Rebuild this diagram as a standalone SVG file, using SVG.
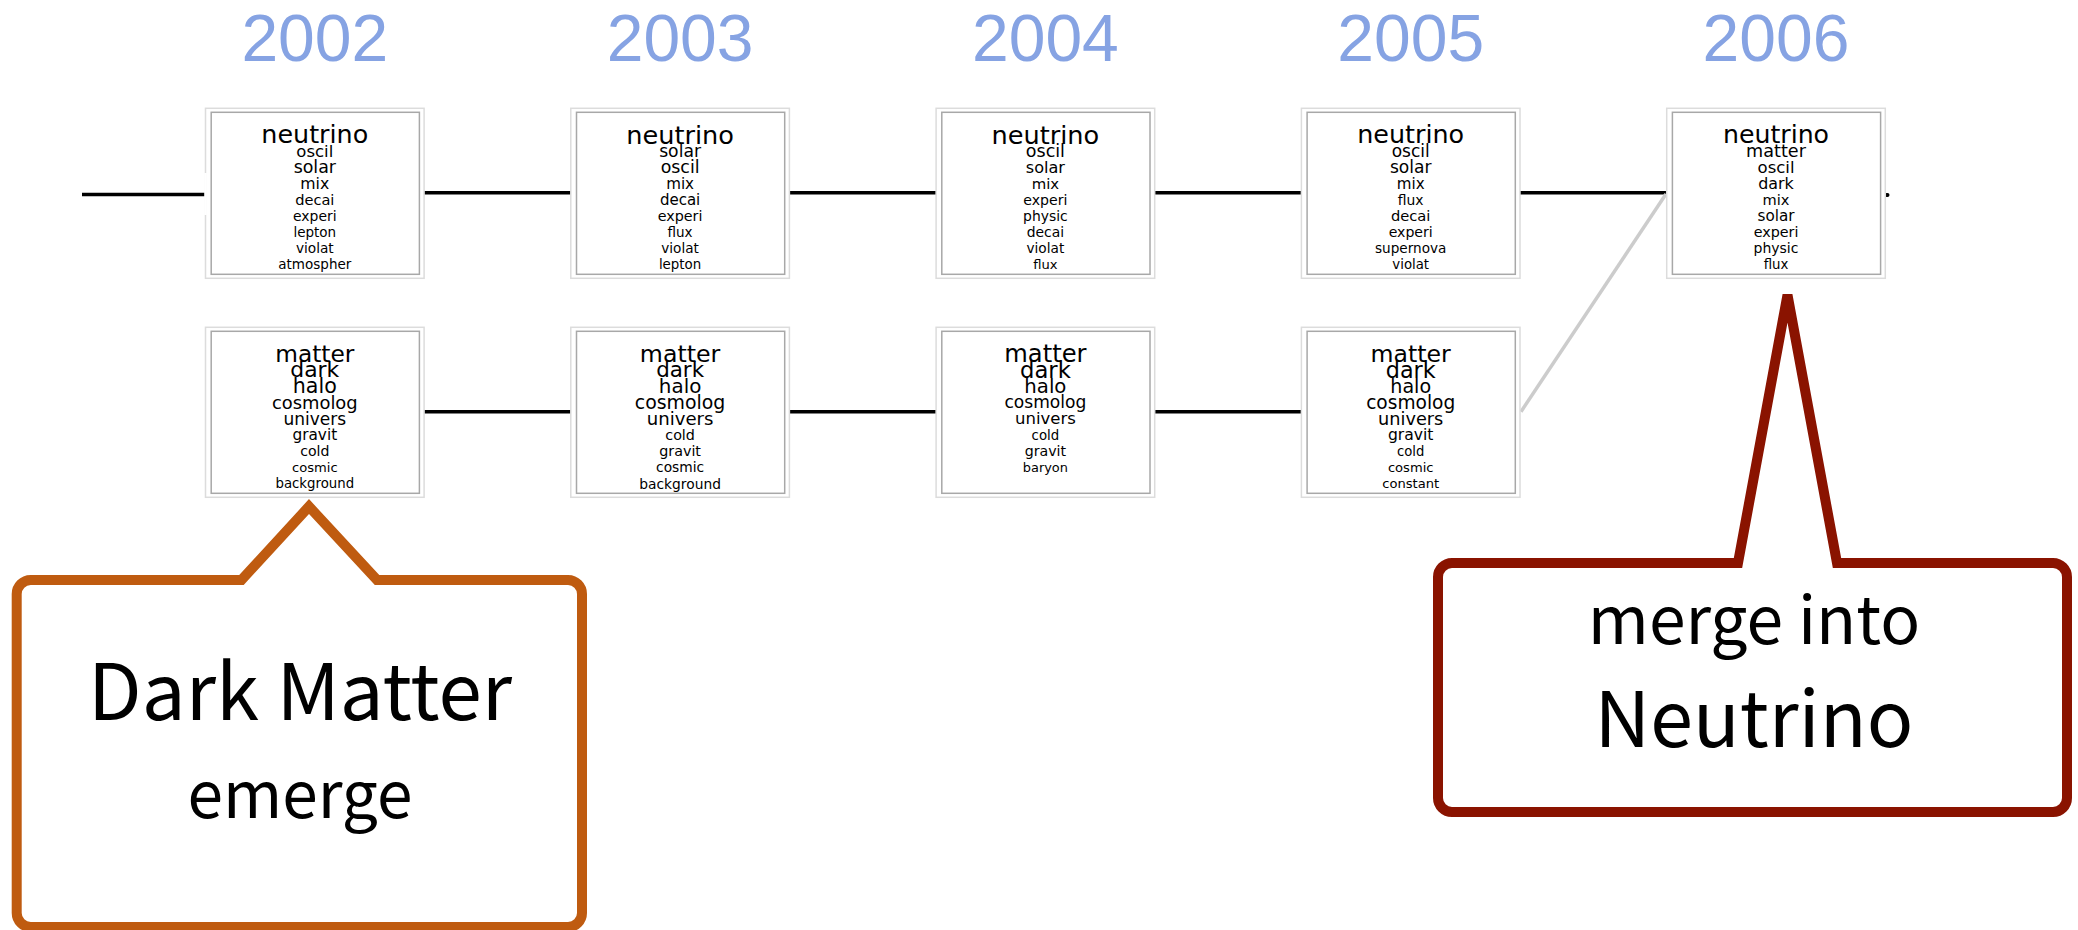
<svg xmlns="http://www.w3.org/2000/svg" width="2078" height="930" viewBox="0 0 2078 930">
<style>
.yr{font-family:"Liberation Sans",Arial,sans-serif;font-size:66px;fill:#86a3e3;text-anchor:middle}
.ob{fill:#fff;stroke:#dcdcdc;stroke-width:1.5}
.ib{fill:#fff;stroke:#a8a8a8;stroke-width:1.5}
.w{font-family:"DejaVu Sans",sans-serif;fill:#000;text-anchor:middle}
.cn{stroke:#000;stroke-width:3.5;fill:none}
.cg{stroke:#cccccc;stroke-width:3.5;fill:none}
.ct{font-family:"Noto Sans CJK JP","Noto Sans",sans-serif;fill:#000;text-anchor:middle}
</style>
<rect width="2078" height="930" fill="#fff"/>
<g id="years">
<text class="yr" x="314.8" y="61">2002</text>
<text class="yr" x="680.1" y="61">2003</text>
<text class="yr" x="1045.4" y="61">2004</text>
<text class="yr" x="1410.7" y="61">2005</text>
<text class="yr" x="1776" y="61">2006</text>
</g>
<g id="connectors">
<line class="cn" x1="82" y1="194.4" x2="207" y2="194.4"/>
<line class="cn" x1="424" y1="192.8" x2="571" y2="192.8"/>
<line class="cn" x1="789.4" y1="192.8" x2="936.1" y2="192.8"/>
<line class="cn" x1="1154.7" y1="192.8" x2="1301.4" y2="192.8"/>
<line class="cn" x1="1520" y1="192.8" x2="1666.7" y2="192.8"/>
<line class="cn" x1="424" y1="411.7" x2="571" y2="411.7"/>
<line class="cn" x1="789.4" y1="411.7" x2="936.1" y2="411.7"/>
<line class="cn" x1="1154.7" y1="411.7" x2="1301.4" y2="411.7"/>
<line class="cg" x1="1521" y1="411.7" x2="1666" y2="194"/>
<line x1="1886.5" y1="195" x2="1887.5" y2="195" stroke="#000" stroke-width="4" stroke-linecap="round"/>
</g>
<g id="n2002top">
<rect class="ob" x="205.5" y="108.3" width="218.6" height="170"/>
<line x1="205.5" y1="173" x2="205.5" y2="215" stroke="#fff" stroke-width="2.5"/>
<rect class="ib" x="211.2" y="112.3" width="208.2" height="162"/>
<text class="w" x="314.8" y="143.4" font-size="25.4">neutrino</text>
<text class="w" x="314.8" y="156.6" font-size="16.5">oscil</text>
<text class="w" x="314.8" y="173.1" font-size="17.4">solar</text>
<text class="w" x="314.8" y="188.8" font-size="15.7">mix</text>
<text class="w" x="314.8" y="204.7" font-size="14.6">decai</text>
<text class="w" x="314.8" y="220.7" font-size="13.9">experi</text>
<text class="w" x="314.8" y="236.8" font-size="13.5">lepton</text>
<text class="w" x="314.8" y="253.2" font-size="13.7">violat</text>
<text class="w" x="314.8" y="269.4" font-size="13.5">atmospher</text>
</g>
<g id="n2003top">
<rect class="ob" x="570.8" y="108.3" width="218.6" height="170"/>
<rect class="ib" x="576.5" y="112.3" width="208.2" height="162"/>
<text class="w" x="680.1" y="143.5" font-size="25.6">neutrino</text>
<text class="w" x="680.1" y="156.8" font-size="17.2">solar</text>
<text class="w" x="680.1" y="173.1" font-size="17.4">oscil</text>
<text class="w" x="680.1" y="188.6" font-size="15.1">mix</text>
<text class="w" x="680.1" y="204.8" font-size="15">decai</text>
<text class="w" x="680.1" y="220.9" font-size="14.3">experi</text>
<text class="w" x="680.1" y="236.8" font-size="13.5">flux</text>
<text class="w" x="680.1" y="253.1" font-size="13.6">violat</text>
<text class="w" x="680.1" y="269.3" font-size="13.4">lepton</text>
</g>
<g id="n2004top">
<rect class="ob" x="936.1" y="108.3" width="218.6" height="170"/>
<rect class="ib" x="941.8" y="112.3" width="208.2" height="162"/>
<text class="w" x="1045.4" y="143.5" font-size="25.6">neutrino</text>
<text class="w" x="1045.4" y="156.9" font-size="17.5">oscil</text>
<text class="w" x="1045.4" y="172.7" font-size="16.1">solar</text>
<text class="w" x="1045.4" y="188.5" font-size="14.9">mix</text>
<text class="w" x="1045.4" y="204.5" font-size="14.1">experi</text>
<text class="w" x="1045.4" y="220.7" font-size="13.9">physic</text>
<text class="w" x="1045.4" y="237" font-size="13.9">decai</text>
<text class="w" x="1045.4" y="253.2" font-size="13.7">violat</text>
<text class="w" x="1045.4" y="269.2" font-size="13.1">flux</text>
</g>
<g id="n2005top">
<rect class="ob" x="1301.4" y="108.3" width="218.6" height="170"/>
<rect class="ib" x="1307.1" y="112.3" width="208.2" height="162"/>
<text class="w" x="1410.7" y="143.4" font-size="25.4">neutrino</text>
<text class="w" x="1410.7" y="156.7" font-size="17">oscil</text>
<text class="w" x="1410.7" y="173" font-size="17.1">solar</text>
<text class="w" x="1410.7" y="188.6" font-size="15.1">mix</text>
<text class="w" x="1410.7" y="204.5" font-size="13.9">flux</text>
<text class="w" x="1410.7" y="221" font-size="14.7">decai</text>
<text class="w" x="1410.7" y="237" font-size="14.1">experi</text>
<text class="w" x="1410.7" y="253.1" font-size="13.6">supernova</text>
<text class="w" x="1410.7" y="269.3" font-size="13.3">violat</text>
</g>
<g id="n2006top">
<rect class="ob" x="1666.7" y="108.3" width="218.6" height="170"/>
<rect class="ib" x="1672.4" y="112.3" width="208.2" height="162"/>
<text class="w" x="1776" y="143.3" font-size="25.2">neutrino</text>
<text class="w" x="1776" y="157" font-size="17.6">matter</text>
<text class="w" x="1776" y="172.8" font-size="16.5">oscil</text>
<text class="w" x="1776" y="188.9" font-size="15.9">dark</text>
<text class="w" x="1776" y="204.7" font-size="14.6">mix</text>
<text class="w" x="1776" y="221.2" font-size="15.2">solar</text>
<text class="w" x="1776" y="237.1" font-size="14.3">experi</text>
<text class="w" x="1776" y="253.3" font-size="14">physic</text>
<text class="w" x="1776" y="269.3" font-size="13.3">flux</text>
</g>
<g id="n2002bot">
<rect class="ob" x="205.5" y="327.3" width="218.6" height="170"/>
<rect class="ib" x="211.2" y="331.3" width="208.2" height="162"/>
<text class="w" x="314.8" y="361.7" font-size="23.3">matter</text>
<text class="w" x="314.8" y="377.4" font-size="21.9">dark</text>
<text class="w" x="314.8" y="393.3" font-size="20.6">halo</text>
<text class="w" x="314.8" y="408.6" font-size="17.9">cosmolog</text>
<text class="w" x="314.8" y="424.5" font-size="17">univers</text>
<text class="w" x="314.8" y="440.2" font-size="15.3">gravit</text>
<text class="w" x="314.8" y="456" font-size="14.1">cold</text>
<text class="w" x="314.8" y="472" font-size="13.1">cosmic</text>
<text class="w" x="314.8" y="488.3" font-size="13.3">background</text>
</g>
<g id="n2003bot">
<rect class="ob" x="570.8" y="327.3" width="218.6" height="170"/>
<rect class="ib" x="576.5" y="331.3" width="208.2" height="162"/>
<text class="w" x="680.1" y="361.8" font-size="23.7">matter</text>
<text class="w" x="680.1" y="377.3" font-size="21.4">dark</text>
<text class="w" x="680.1" y="393" font-size="19.9">halo</text>
<text class="w" x="680.1" y="408.9" font-size="18.9">cosmolog</text>
<text class="w" x="680.1" y="424.9" font-size="18.1">univers</text>
<text class="w" x="680.1" y="439.9" font-size="14.3">cold</text>
<text class="w" x="680.1" y="456.1" font-size="14.3">gravit</text>
<text class="w" x="680.1" y="472.2" font-size="13.8">cosmic</text>
<text class="w" x="680.1" y="488.5" font-size="13.8">background</text>
</g>
<g id="n2004bot">
<rect class="ob" x="936.1" y="327.3" width="218.6" height="170"/>
<rect class="ib" x="941.8" y="331.3" width="208.2" height="162"/>
<text class="w" x="1045.4" y="362" font-size="24.2">matter</text>
<text class="w" x="1045.4" y="377.7" font-size="22.7">dark</text>
<text class="w" x="1045.4" y="392.9" font-size="19.7">halo</text>
<text class="w" x="1045.4" y="408.3" font-size="17.1">cosmolog</text>
<text class="w" x="1045.4" y="424.4" font-size="16.5">univers</text>
<text class="w" x="1045.4" y="439.5" font-size="13.3">cold</text>
<text class="w" x="1045.4" y="456.1" font-size="14.2">gravit</text>
<text class="w" x="1045.4" y="471.9" font-size="12.9">baryon</text>
</g>
<g id="n2005bot">
<rect class="ob" x="1301.4" y="327.3" width="218.6" height="170"/>
<rect class="ib" x="1307.1" y="331.3" width="208.2" height="162"/>
<text class="w" x="1410.7" y="361.8" font-size="23.6">matter</text>
<text class="w" x="1410.7" y="377.6" font-size="22.3">dark</text>
<text class="w" x="1410.7" y="392.7" font-size="19.1">halo</text>
<text class="w" x="1410.7" y="408.8" font-size="18.6">cosmolog</text>
<text class="w" x="1410.7" y="424.8" font-size="17.7">univers</text>
<text class="w" x="1410.7" y="440.3" font-size="15.6">gravit</text>
<text class="w" x="1410.7" y="455.7" font-size="13.2">cold</text>
<text class="w" x="1410.7" y="472" font-size="13.1">cosmic</text>
<text class="w" x="1410.7" y="488.2" font-size="13.1">constant</text>
</g>
<g id="callout-darkmatter">
<path d="M30.7,580 H241.5 L309,506.5 L377,580 H568 A14,14 0 0 1 582,594 V913 A14,14 0 0 1 568,927 H30.7 A14,14 0 0 1 16.7,913 V594 A14,14 0 0 1 30.7,580 Z" fill="#fff" stroke="#bf5b10" stroke-width="10"/>
<text class="ct" x="300" y="720" font-size="78">Dark Matter</text>
<text class="ct" x="300" y="818" font-size="64">emerge</text>
</g>
<g id="callout-neutrino">
<path d="M1452,563 H1738 L1787.5,295 L1837,563 H2053 A14,14 0 0 1 2067,577 V798 A14,14 0 0 1 2053,812 H1452 A14,14 0 0 1 1438,798 V577 A14,14 0 0 1 1452,563 Z" fill="#fff" stroke="#8a1300" stroke-width="10"/>
<text class="ct" x="1754" y="644" font-size="66">merge into</text>
<text class="ct" x="1754" y="747" font-size="77">Neutrino</text>
</g>
</svg>
